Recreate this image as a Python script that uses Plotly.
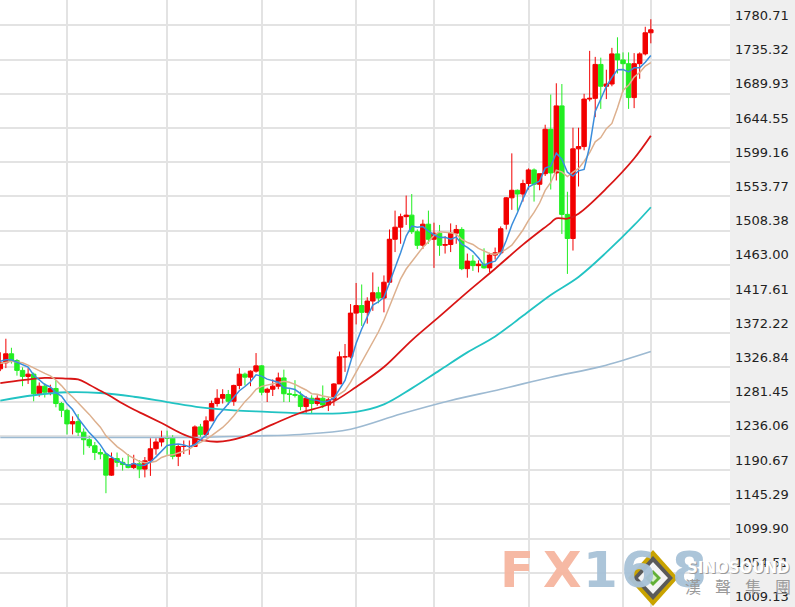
import plotly.graph_objects as go

# ---------------- data (weekly candles, index 0..117) ----------------
opens = [1325, 1333, 1345, 1336, 1323, 1315, 1318, 1292, 1302, 1294,
         1299, 1279, 1270, 1252, 1255, 1241, 1231, 1223, 1214, 1212,
         1184, 1206, 1201, 1198, 1194, 1199, 1192, 1203, 1219, 1228,
         1234, 1233, 1209, 1222, 1222, 1222, 1248, 1238, 1256, 1279,
         1286, 1291, 1282, 1303, 1318, 1314, 1322, 1329, 1294, 1298,
         1302, 1313, 1292, 1291, 1290, 1275, 1286, 1279, 1286, 1277,
         1284, 1305, 1341, 1341, 1399, 1409, 1400, 1415, 1426, 1419,
         1440, 1497, 1513, 1527, 1529, 1507, 1489, 1517, 1497, 1505,
         1489, 1490, 1505, 1510, 1458, 1468, 1462, 1464, 1459, 1476,
         1479, 1517, 1552, 1562, 1557, 1571, 1589, 1570, 1584, 1643,
         1585, 1674, 1530, 1498, 1617, 1620, 1683, 1684, 1729, 1700,
         1703, 1743, 1735, 1730, 1685, 1730, 1743, 1771]
highs = [1347, 1365, 1353, 1338, 1327, 1326, 1320, 1307, 1306, 1304,
         1310, 1281, 1272, 1262, 1265, 1246, 1236, 1228, 1219, 1214,
         1214, 1214, 1207, 1212, 1211, 1204, 1208, 1233, 1233, 1243,
         1243, 1237, 1225, 1230, 1230, 1250, 1252, 1262, 1283, 1298,
         1298, 1297, 1304, 1326, 1320, 1323, 1346, 1330, 1300, 1311,
         1320, 1324, 1298, 1310, 1295, 1289, 1290, 1290, 1303, 1287,
         1306, 1348, 1358, 1411, 1439, 1437, 1420, 1453, 1434, 1449,
         1510, 1535, 1531, 1555, 1557, 1510, 1523, 1535, 1519, 1516,
         1501, 1518, 1516, 1513, 1478, 1476, 1469, 1485, 1479, 1486,
         1514, 1553, 1611, 1563, 1576, 1591, 1591, 1584, 1649, 1689,
         1704, 1703, 1560, 1645, 1645, 1690, 1747, 1739, 1738, 1722,
         1751, 1765, 1745, 1745, 1744, 1745, 1779, 1789]
lows = [1322, 1326, 1332, 1316, 1302, 1305, 1282, 1288, 1287, 1290,
        1274, 1261, 1238, 1238, 1236, 1211, 1220, 1204, 1205, 1160,
        1183, 1195, 1190, 1193, 1192, 1180, 1181, 1183, 1211, 1222,
        1211, 1205, 1196, 1212, 1211, 1222, 1233, 1235, 1256, 1275,
        1279, 1277, 1276, 1298, 1303, 1302, 1320, 1290, 1281, 1289,
        1298, 1281, 1281, 1287, 1270, 1266, 1266, 1276, 1273, 1269,
        1276, 1305, 1321, 1339, 1384, 1382, 1385, 1402, 1412, 1400,
        1437, 1480, 1491, 1516, 1504, 1484, 1484, 1491, 1459, 1475,
        1478, 1480, 1491, 1456, 1446, 1455, 1453, 1458, 1453, 1470,
        1477, 1510, 1536, 1535, 1547, 1563, 1547, 1562, 1581, 1563,
        1575, 1504, 1451, 1482, 1567, 1615, 1680, 1659, 1670, 1683,
        1700, 1717, 1693, 1670, 1671, 1710, 1741, 1757]
closes = [1333, 1345, 1336, 1323, 1315, 1318, 1292, 1302, 1294, 1299,
          1279, 1270, 1252, 1255, 1241, 1231, 1223, 1214, 1212, 1184,
          1206, 1201, 1198, 1194, 1199, 1192, 1203, 1219, 1228, 1234,
          1233, 1209, 1222, 1222, 1222, 1248, 1238, 1256, 1279, 1286,
          1291, 1282, 1303, 1318, 1314, 1322, 1329, 1294, 1298, 1302,
          1313, 1292, 1291, 1290, 1275, 1286, 1279, 1286, 1277, 1284,
          1305, 1341, 1341, 1399, 1409, 1400, 1415, 1426, 1419, 1440,
          1497, 1513, 1527, 1529, 1507, 1489, 1517, 1497, 1505, 1489,
          1490, 1505, 1510, 1458, 1468, 1462, 1464, 1459, 1476, 1479,
          1511, 1552, 1562, 1557, 1571, 1589, 1570, 1584, 1643, 1585,
          1674, 1530, 1498, 1617, 1620, 1683, 1684, 1729, 1700, 1703,
          1743, 1735, 1730, 1685, 1730, 1743, 1771, 1775]

ma5 = [1335, 1337, 1337, 1334, 1330.4, 1327.4, 1316.8, 1310.0, 1304.2, 1301.0,
       1293.2, 1288.8, 1278.8, 1271.0, 1259.4, 1249.8, 1240.4, 1232.8, 1224.2, 1212.8,
       1207.8, 1203.4, 1200.2, 1196.6, 1199.6, 1196.8, 1197.2, 1201.4, 1208.2, 1215.2,
       1223.4, 1224.6, 1225.2, 1224.0, 1221.6, 1224.6, 1230.4, 1237.2, 1248.6, 1261.4,
       1270.0, 1278.8, 1288.2, 1296.0, 1301.6, 1307.8, 1317.2, 1315.4, 1311.4, 1309.0,
       1307.2, 1299.8, 1299.2, 1297.6, 1292.2, 1286.8, 1284.2, 1283.2, 1280.6, 1282.4,
       1286.2, 1298.6, 1309.6, 1334.0, 1359.0, 1378.0, 1392.8, 1409.8, 1413.8, 1420.0,
       1439.4, 1459.0, 1479.2, 1501.2, 1514.6, 1513.0, 1513.8, 1507.8, 1503.0, 1499.4,
       1499.6, 1497.2, 1499.8, 1490.4, 1486.2, 1480.6, 1472.4, 1462.2, 1465.8, 1468.0,
       1477.8, 1495.4, 1516.0, 1532.2, 1550.6, 1566.2, 1569.8, 1574.2, 1591.4, 1594.2,
       1611.2, 1603.2, 1586.0, 1580.8, 1587.8, 1589.6, 1620.4, 1666.6, 1683.2, 1699.8,
       1711.8, 1722.0, 1722.2, 1719.2, 1724.6, 1724.6, 1731.8, 1740.8]
ma10 = [1332, 1334, 1335, 1334, 1333, 1330, 1326, 1322, 1319, 1315.7,
        1310.3, 1302.8, 1294.4, 1287.6, 1280.2, 1271.5, 1264.6, 1255.8, 1247.6, 1236.1,
        1228.8, 1221.9, 1216.5, 1210.4, 1206.2, 1202.3, 1200.3, 1200.8, 1202.4, 1207.4,
        1210.1, 1210.9, 1213.3, 1216.1, 1218.4, 1224.0, 1227.5, 1231.2, 1236.3, 1241.5,
        1247.3, 1254.6, 1262.7, 1272.3, 1281.5, 1288.9, 1298.0, 1301.8, 1303.7, 1305.3,
        1307.5, 1308.5, 1307.3, 1304.5, 1300.6, 1297.0, 1292.0, 1291.2, 1289.1, 1287.3,
        1286.5, 1291.4, 1296.4, 1307.3, 1320.7, 1332.1, 1345.7, 1359.7, 1373.9, 1389.5,
        1408.7, 1425.9, 1444.5, 1457.5, 1467.3, 1476.2, 1486.4, 1493.5, 1502.1, 1507.0,
        1506.3, 1505.5, 1503.8, 1496.7, 1492.8, 1490.1, 1484.8, 1481.0, 1478.1, 1477.1,
        1479.2, 1483.9, 1489.1, 1499.0, 1509.3, 1522.0, 1532.6, 1545.1, 1561.8, 1572.4,
        1588.7, 1586.5, 1580.1, 1586.1, 1591.0, 1600.4, 1611.8, 1626.3, 1632.0, 1643.8,
        1650.7, 1671.2, 1694.4, 1701.2, 1712.2, 1718.2, 1726.9, 1731.5]

ma30_idx = [0, 4, 8, 12, 14, 16, 18, 20, 22, 24, 26, 29, 34, 39, 44, 49, 54, 59,
            64, 69, 74, 79, 84, 89, 94, 99, 100, 102, 104, 109, 114, 117]
ma30 = [1306, 1310, 1313, 1312, 1311, 1304, 1296, 1288, 1279, 1271, 1264, 1253.1,
        1234.9, 1228.3, 1235.4, 1251.4, 1266.8, 1278.0, 1300.9, 1327.4, 1362.9, 1394.6,
        1426.9, 1457.9, 1489.8, 1518.8, 1524.7, 1524.3, 1531.0, 1564.4, 1604.2, 1634.3]

ma60_idx = [0, 6, 12, 18, 24, 30, 36, 42, 48, 54, 59, 64, 69, 74, 79, 84, 89, 94,
            99, 104, 109, 114, 117]
ma60 = [1283, 1290, 1294, 1293, 1288, 1281, 1274, 1270, 1268, 1266, 1265.6, 1267.9,
        1277.9, 1299.1, 1323.0, 1346.9, 1368.0, 1395.4, 1423.1, 1447.0, 1479.5, 1515.6,
        1539.5]

malong_idx = [0, 12, 24, 36, 45, 54, 63, 72, 81, 90, 99, 108, 117]
malong = [1234, 1234, 1234, 1234, 1236, 1238, 1245, 1265, 1283, 1298, 1314, 1328, 1348]

ytick_vals = [1780.71, 1735.32, 1689.93, 1644.55, 1599.16, 1553.77, 1508.38, 1463.00,
              1417.61, 1372.22, 1326.84, 1281.45, 1236.06, 1190.67, 1145.29, 1099.90,
              1054.51, 1009.13]
xgrid_idx = [12, 30, 47, 64, 78, 95, 112, 117]

# ---------------- styles ----------------
RED = '#f20000'
GREEN = '#22ee22'

idx = list(range(len(closes)))

fig = go.Figure()
fig.add_trace(go.Candlestick(
    x=idx, open=opens, high=highs, low=lows, close=closes,
    increasing=dict(line=dict(color=RED, width=1), fillcolor=RED),
    decreasing=dict(line=dict(color=GREEN, width=1), fillcolor=GREEN),
    whiskerwidth=0, hoverinfo='skip', showlegend=False))

def add_line(x, y, color, width, spline=True):
    fig.add_trace(go.Scatter(x=x, y=y, mode='lines',
                             line=dict(color=color, width=width,
                                       shape='spline' if spline else 'linear'),
                             hoverinfo='skip', showlegend=False))

add_line(malong_idx, malong, '#9dbad2', 1.6)
add_line(ma60_idx, ma60, '#22c3c3', 1.8)
add_line(ma30_idx, ma30, '#d91515', 1.8)
add_line(list(range(len(ma10))), ma10, '#ddb08e', 1.5, spline=False)
add_line(list(range(len(ma5))), ma5, '#3a8ddc', 1.5, spline=False)

fig.update_layout(
    width=795, height=607,
    margin=dict(l=0, r=65, t=0, b=0, autoexpand=False),
    paper_bgcolor='#efefef', plot_bgcolor='#ffffff',
    showlegend=False,
    boxgap=0.2, boxgroupgap=0,
    xaxis=dict(range=[-0.054, 131.24], tickvals=xgrid_idx, showticklabels=False,
               showgrid=True, gridcolor='#e3e3e3', gridwidth=1.5, zeroline=False,
               ticks='', rangeslider=dict(visible=False), fixedrange=True),
    yaxis=dict(side='right', range=[1009.0, 1814.5], tickvals=ytick_vals,
               ticktext=['%.2f' % v for v in ytick_vals],
               showgrid=True, gridcolor='#e3e3e3', gridwidth=1.5, zeroline=False,
               ticks='', ticklabelshift=-10, ticklabelstandoff=4, automargin=False,
               tickfont=dict(family='DejaVu Sans', size=13, color='#222222'),
               fixedrange=True),
)

# ---------------- watermark (FX168 / SINOSOUND) ----------------
W, H = 730.0, 607.0
def px(xp): return xp / W
def py(yp): return 1 - yp / H

for ch, cx, col in [('F', 517, '#f6b6a0'), ('X', 562, '#f6b6a0'),
                    ('1', 600, '#a8c2d8'), ('6', 638, '#a8c2d8'), ('8', 689, '#a8c2d8')]:
    fig.add_annotation(x=px(cx), y=py(570), xref='paper', yref='paper', text=ch,
                       showarrow=False, xanchor='center', yanchor='middle',
                       font=dict(family='DejaVu Sans', size=50, color=col, weight='bold'),
                       opacity=0.95)

def diamond(cx, cy, hw, hh):
    return 'M %f %f L %f %f L %f %f L %f %f Z' % (
        px(cx), py(cy - hh), px(cx + hw), py(cy), px(cx), py(cy + hh), px(cx - hw), py(cy))

for hw, hh, fill in [(25, 28, '#c9a300'), (20, 22, '#5a5a5a'), (15, 16, '#f4f4f4'),
                     (8, 8, '#62b036'), (4, 4, '#d8f0c8')]:
    fig.add_shape(type='path', path=diamond(653, 578, hw, hh), xref='paper', yref='paper',
                  fillcolor=fill, line=dict(width=0), layer='above')

fig.add_annotation(x=px(738), y=py(568), xref='paper', yref='paper', text='<b>SINOSOUND</b>',
                   showarrow=False, xanchor='center', yanchor='middle',
                   font=dict(family='DejaVu Sans', size=15, color='#9a9a9a'),
                   xshift=1, yshift=-1)
fig.add_annotation(x=px(738), y=py(568), xref='paper', yref='paper', text='<b>SINOSOUND</b>',
                   showarrow=False, xanchor='center', yanchor='middle',
                   font=dict(family='DejaVu Sans', size=15, color='#ffffff'))
for ch, cx in [('漢', 693), ('聲', 723), ('集', 753), ('團', 783)]:
    fig.add_annotation(x=px(cx), y=py(586), xref='paper', yref='paper', text=ch,
                       showarrow=False, xanchor='center', yanchor='middle',
                       font=dict(family='Noto Sans CJK TC', size=16, color='#9a9a9a'))

fig.write_html('out.html', post_script="document.body.style.margin='0px';",
               config={'displayModeBar': False})
